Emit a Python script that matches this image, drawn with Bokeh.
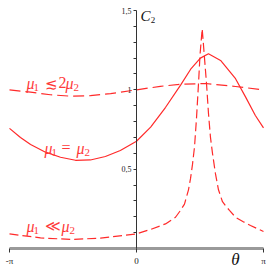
import math
from bokeh.plotting import figure
from bokeh.models import LinearAxis, FixedTicker, Range1d, Label
from bokeh.embed import file_html
from bokeh.resources import INLINE

# --- data (theta in radians, C2 values) ---
theta_a = [-3.1416, -2.62, -2.13, -1.63, -1.14, -0.64, 0.0, 0.59, 1.09, 1.71, 2.45, 3.1416]
c_a = [1.000, 0.985, 0.969, 0.960, 0.963, 0.976, 1.000, 1.022, 1.035, 1.040, 1.021, 1.000]

theta_b = [-3.1416, -2.87, -2.62, -2.25, -1.88, -1.51, -1.14, -0.77, -0.40, 0.0, 0.35, 0.72,
           1.09, 1.34, 1.58, 1.78, 2.08, 2.45, 2.70, 2.94, 3.1416]
c_b = [0.757, 0.700, 0.655, 0.607, 0.575, 0.556, 0.558, 0.580, 0.618, 0.676, 0.765, 0.890,
       1.030, 1.130, 1.200, 1.227, 1.185, 1.070, 0.954, 0.838, 0.760]

theta_c = [-3.1416, -2.374, -1.632, -0.890, 0.0, 0.346, 0.717, 0.965, 1.088, 1.187, 1.286,
           1.336, 1.385, 1.435, 1.484, 1.534, 1.571, 1.625, 1.670, 1.707, 1.732, 1.781,
           1.830, 1.880, 1.954, 2.028, 2.127, 2.200, 2.300, 2.450, 2.630, 2.820, 3.1416]
c_c = [0.092, 0.067, 0.057, 0.065, 0.092, 0.120, 0.155, 0.197, 0.240, 0.280, 0.370,
       0.440, 0.530, 0.640, 0.820, 1.040, 1.220, 1.385, 1.240, 1.120, 1.040, 0.850,
       0.700, 0.600, 0.470, 0.370, 0.295, 0.270, 0.240, 0.197, 0.170, 0.145, 0.107]

x_ticks = [-math.pi, 0.0, math.pi]
x_tick_labels = ["-π", "0", "π"]
y_ticks = [0.5, 1.0, 1.5]
y_tick_labels = ["0,5", "1", "1,5"]
y_minor = [0.1, 0.2, 0.3, 0.4, 0.6, 0.7, 0.8, 0.9, 1.1, 1.2, 1.3, 1.4]

RED = "#ff2a2a"
TXT = "#ff3a3a"
SERIF = "Liberation Serif"

W, H = 270, 270
sx = 254 / (2 * math.pi)      # -pi at x=9, pi at x=263
sy = 238 / 1.5                # 1.5 at y=10, 0 at y=248
p = figure(width=W, height=H, output_backend="svg", toolbar_location=None,
           x_axis_type=None, y_axis_type=None,
           x_range=Range1d(-math.pi - 9 / sx, math.pi + 7 / sx),
           y_range=Range1d(-22 / sy, 1.5 + 10 / sy),
           min_border=0)
p.outline_line_color = None
p.background_fill_color = "white"

p.line(theta_a, c_a, line_color=RED, line_width=1.2, line_dash="11 5")
p.line(theta_b, c_b, line_color=RED, line_width=1.2)
p.line(theta_c, c_c, line_color=RED, line_width=1.2, line_dash="9 4")

xax = LinearAxis(fixed_location=0, ticker=FixedTicker(ticks=x_ticks),
                 major_label_overrides=dict(zip(x_ticks, x_tick_labels)),
                 bounds=(-math.pi, math.pi))
xax.axis_line_color = "#9a9a9a"
xax.axis_line_width = 3
xax.major_tick_line_color = "#333333"
xax.major_tick_out = 4
xax.major_tick_in = 0
xax.minor_tick_line_color = None
xax.major_label_standoff = 3
xax.major_label_text_font = SERIF
xax.major_label_text_font_size = "9px"
xax.major_label_text_color = "#222222"
p.add_layout(xax, "below")

yax = LinearAxis(fixed_location=0, bounds=(0, 1.5),
                 ticker=FixedTicker(ticks=y_ticks, minor_ticks=y_minor),
                 major_label_overrides=dict(zip(y_ticks, y_tick_labels)))
yax.axis_line_color = "#333333"
yax.axis_line_width = 1
yax.major_tick_line_color = "#333333"
yax.minor_tick_line_color = "#333333"
yax.major_tick_out = 3
yax.major_tick_in = 0
yax.minor_tick_out = 3
yax.minor_tick_in = 0
yax.major_label_standoff = 2
yax.major_label_text_font = SERIF
yax.major_label_text_font_size = "8px"
yax.major_label_text_color = "#222222"
p.add_layout(yax, "left")

# reference pixel -> data
def ref_x(px):
    return (px - 136) / sx

def ref_y(py):
    return (248 - py) / sy

def put(txt, px, py, size, italic=False, color=TXT, align="left", font=SERIF):
    p.add_layout(Label(x=ref_x(px), y=ref_y(py), text=txt, text_color=color,
                       text_font=font, text_font_style="italic" if italic else "normal",
                       text_font_size=size, text_align=align, text_baseline="middle"))

# label pieces: (text, left px, centre py, size, italic)
label_pieces = [
    # mu1 <~ 2 mu2
    ("μ", 26, 83, "16px", True), ("1", 33, 87, "11px", False),
    ("≲", 44, 83, "15px", False), ("2", 58, 82, "16px", False),
    ("μ", 65, 83, "16px", True), ("2", 73, 87, "11px", False),
    # mu1 = mu2
    ("μ", 44, 148, "16px", True), ("1", 51, 152, "11px", False),
    ("=", 61, 147, "16px", False),
    ("μ", 76, 148, "16px", True), ("2", 84, 152, "11px", False),
    # mu1 << mu2
    ("μ", 26, 226, "16px", True), ("1", 33, 230, "11px", False),
    ("≪", 44, 225, "15px", False),
    ("μ", 61, 226, "16px", True), ("2", 69, 230, "11px", False),
]
for txt, lx, ly, size, it in label_pieces:
    put(txt, lx, ly, size, it)

put("C", 145, 15, "15px", True, "#111111", "center")
put("2", 152.5, 19.5, "9px", False, "#111111", "center")
put("θ", 235, 259, "17px", True, "#111111", "center")

open("out.html", "w").write(file_html(p, INLINE))
